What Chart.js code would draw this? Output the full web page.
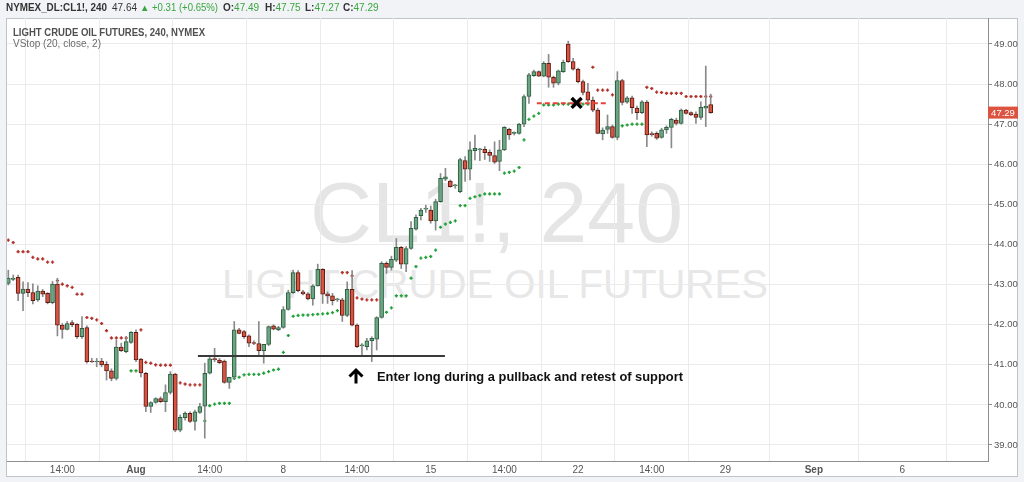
<!DOCTYPE html>
<html><head><meta charset="utf-8">
<script src="https://cdn.jsdelivr.net/npm/chart.js@4.4.1/dist/chart.umd.min.js"></script>
<style>
html,body{margin:0;padding:0;background:#f1f3f6;}
#wrap{position:relative;width:1024px;height:482px;overflow:hidden;}
#panel{position:absolute;left:6px;top:18px;width:1012px;height:459px;background:#fff;border:1px solid #bfc4ca;box-sizing:border-box;}
#bg,#fg,canvas{position:absolute;left:0;top:0;}
</style></head>
<body><div id="wrap">
<div id="panel"></div>
<svg id="bg" width="1024" height="482">
  <text x="310" y="242" font-family="Liberation Sans, Arial, sans-serif" font-size="86" fill="#e5e5e5" textLength="373" lengthAdjust="spacingAndGlyphs">CL1!, 240</text>
  <text x="222" y="298" font-family="Liberation Sans, Arial, sans-serif" font-size="40" fill="#e7e7e7" textLength="546" lengthAdjust="spacingAndGlyphs">LIGHT CRUDE OIL FUTURES</text>
</svg>
<canvas id="c" width="1024" height="482"></canvas>
<svg id="fg" width="1024" height="482" font-family="Liberation Sans, Arial, sans-serif">
  <g font-size="10" fill="#333">
    <text x="6" y="11" font-weight="bold" textLength="101" lengthAdjust="spacingAndGlyphs">NYMEX_DL:CL1!, 240</text>
    <text x="112" y="11">47.64</text>
    <text x="140" y="11" fill="#3aa63f" font-size="9.5">▲</text>
    <text x="152" y="11" fill="#3aa63f" textLength="66" lengthAdjust="spacingAndGlyphs">+0.31 (+0.65%)</text>
    <text x="223" y="11"><tspan font-weight="bold">O:</tspan><tspan fill="#3aa63f">47.49</tspan></text>
    <text x="265" y="11"><tspan font-weight="bold">H:</tspan><tspan fill="#3aa63f">47.75</tspan></text>
    <text x="305" y="11"><tspan font-weight="bold">L:</tspan><tspan fill="#3aa63f">47.27</tspan></text>
    <text x="343" y="11"><tspan font-weight="bold">C:</tspan><tspan fill="#3aa63f">47.29</tspan></text>
  </g>
  <text x="13" y="36" font-size="10" font-weight="bold" fill="#505050" textLength="192" lengthAdjust="spacingAndGlyphs">LIGHT CRUDE OIL FUTURES, 240, NYMEX</text>
  <text x="13" y="47" font-size="10" fill="#6b6b6b" textLength="88" lengthAdjust="spacingAndGlyphs">VStop (20, close, 2)</text>
  <path d="M349.5,376.5 L356,370 L362.5,376.5 M356,371 L356,383.5" stroke="#000" stroke-width="3" fill="none"/>
  <text x="377" y="381" font-size="12.5" font-weight="bold" fill="#111" textLength="306" lengthAdjust="spacingAndGlyphs">Enter long during a pullback and retest of support</text>
  <rect id="plRect" x="988" y="107" width="30" height="12" fill="#dc5440"/>
  <text id="plText" x="1003" y="116.5" text-anchor="middle" font-size="9.5" fill="#fff">47.29</text>
</svg>
</div>
<script>
// ---- data (4H bars, index 0..143) ----
const openP = [43.03,43.13,43.18,42.78,42.89,42.80,42.62,42.84,42.78,42.55,
43.01,41.99,41.88,42.05,42.01,41.70,41.93,41.08,41.07,41.09,
41.01,40.85,40.66,41.44,41.33,41.56,41.81,41.14,40.79,39.96,
40.06,40.16,40.08,40.31,40.77,39.37,39.68,39.79,39.59,39.81,
39.97,40.79,41.14,41.12,41.09,40.56,40.69,41.87,41.83,41.72,
41.54,41.53,41.35,41.51,41.97,41.87,41.93,42.38,42.80,43.30,
42.82,42.77,42.64,42.97,43.38,42.77,42.72,42.62,42.62,42.23,
42.88,41.99,41.47,41.45,41.60,41.64,42.18,43.53,43.43,43.61,
43.93,43.51,43.90,44.38,44.72,44.88,44.86,44.59,45.07,45.63,
45.58,45.46,45.32,46.09,45.88,46.34,46.36,46.37,46.30,46.22,
46.07,46.36,46.87,46.77,46.77,47.00,47.69,48.21,48.31,48.20,
48.52,48.17,48.02,48.31,49.00,48.56,48.37,48.06,47.81,47.60,
47.35,46.76,46.87,46.94,46.67,48.09,47.55,47.66,47.40,47.29,
47.55,46.76,46.77,46.67,46.86,46.92,47.10,47.02,47.35,47.29,
47.25,47.17,47.40,47.49];
const highP = [43.36,43.24,43.24,43.07,43.05,43.02,42.97,42.88,42.80,43.08,
43.16,42.03,42.08,42.10,42.03,42.20,41.97,41.16,41.16,41.16,
41.08,40.90,41.62,41.54,41.70,41.83,41.87,41.16,40.81,40.08,
40.18,40.20,40.50,40.83,40.79,39.75,39.83,39.83,39.87,40.04,
41.04,41.20,41.41,41.16,41.12,40.69,42.08,41.91,41.86,41.75,
41.60,42.08,41.51,41.97,42.00,41.96,42.45,42.86,43.36,43.35,
42.86,42.80,43.00,43.51,43.40,42.82,42.78,42.66,42.66,43.07,
43.35,42.02,41.53,41.66,41.70,42.20,43.57,43.57,43.71,44.15,
43.95,43.95,44.57,44.74,44.90,44.98,44.96,45.13,45.77,45.90,
45.61,45.50,46.15,46.19,46.56,46.73,46.40,46.44,46.36,46.56,
46.60,46.94,46.90,46.81,47.02,47.73,48.27,48.35,48.33,48.56,
48.74,48.20,48.35,48.60,49.07,48.64,48.40,48.10,48.02,47.68,
47.40,46.91,47.23,46.98,48.31,48.12,47.69,47.70,47.45,47.59,
47.59,46.81,46.81,46.90,46.96,47.15,47.15,47.38,47.37,47.31,
47.31,47.56,48.45,47.75];
const lowP = [42.99,43.10,42.60,42.35,42.70,42.52,42.58,42.70,42.52,42.52,
41.72,41.66,41.87,41.95,41.66,41.66,41.04,41.06,40.95,40.95,
40.62,40.60,40.62,41.33,41.30,41.53,41.08,40.70,39.83,39.81,
40.04,40.06,39.83,40.27,39.33,39.33,39.62,39.56,39.37,39.79,
39.17,40.77,41.08,41.03,40.54,40.41,40.66,41.77,41.66,41.45,
41.50,41.22,41.04,41.48,41.87,41.85,41.91,42.36,42.78,42.82,
42.74,42.62,42.49,42.96,42.53,42.53,42.49,42.58,42.08,42.20,
41.97,41.43,41.24,41.37,41.08,41.37,42.16,43.28,43.36,43.57,
43.40,43.32,43.88,44.36,44.61,44.80,44.53,44.36,45.05,45.59,
45.43,45.40,45.29,45.57,45.61,46.11,46.09,46.12,46.07,46.02,
45.84,46.34,46.62,46.73,46.75,46.94,47.52,48.19,48.19,48.18,
47.92,47.92,47.98,48.29,48.54,48.35,48.03,47.73,47.56,47.31,
46.76,46.61,46.77,46.65,46.61,47.48,47.52,47.27,47.12,47.26,
46.44,46.70,46.62,46.65,46.77,46.41,46.98,47.00,47.25,47.21,
47.02,47.12,46.94,47.27];
const closeP = [43.16,43.16,42.78,42.89,42.80,42.60,42.84,42.76,42.55,43.01,
41.99,41.88,42.03,42.00,41.70,41.91,41.08,41.07,41.08,41.00,
40.85,40.66,41.44,41.35,41.58,41.81,41.12,40.80,39.96,40.06,
40.16,40.08,40.31,40.77,39.37,39.69,39.79,39.59,39.83,39.96,
40.79,41.15,41.13,41.05,40.56,40.69,41.87,41.78,41.70,41.54,
41.53,41.35,41.51,41.95,41.89,41.93,42.38,42.80,43.30,42.85,
42.77,42.64,42.97,43.38,42.76,42.72,42.60,42.62,42.23,42.88,
41.99,41.45,41.47,41.60,41.66,42.18,43.53,43.43,43.63,43.93,
43.51,43.90,44.40,44.68,44.86,44.88,44.59,45.07,45.65,45.69,
45.44,45.46,46.12,45.88,46.36,46.40,46.36,46.29,46.22,46.05,
46.36,46.92,46.73,46.77,47.00,47.69,48.23,48.31,48.20,48.52,
48.17,48.02,48.33,48.54,48.56,48.37,48.06,47.79,47.60,47.35,
46.77,46.85,46.94,46.67,48.09,47.54,47.66,47.41,47.29,47.56,
46.73,46.74,46.65,46.86,46.92,47.12,47.02,47.35,47.27,47.23,
47.17,47.42,47.45,47.29];
// VStop (20, close, 2) stop level per bar, and its side (d = above price / red, u = below price / green)
const vstopVal = [44.11,44.05,43.82,43.82,43.82,43.68,43.64,43.64,43.56,43.56,
43.10,43.01,42.97,42.93,42.76,42.76,42.18,42.16,42.12,42.03,
41.85,41.67,41.67,41.67,41.67,40.85,40.85,41.87,41.06,41.04,
41.00,40.99,40.99,40.99,40.55,40.55,40.52,40.50,40.50,40.50,
39.60,39.98,40.02,40.04,40.04,40.04,40.66,40.69,40.75,40.76,
40.76,40.76,40.79,40.83,40.87,40.89,41.31,41.73,42.21,42.23,
42.24,42.24,42.25,42.26,42.27,42.28,42.30,42.35,43.30,43.30,
43.22,42.67,42.64,42.62,42.62,42.62,42.25,42.31,42.42,42.72,
42.72,42.72,43.16,43.45,43.66,43.68,43.70,43.86,44.43,44.51,
44.55,44.59,44.97,44.97,45.15,45.19,45.22,45.26,45.26,45.26,
45.26,45.78,45.80,45.83,45.92,46.61,47.12,47.20,47.27,47.48,
47.48,47.48,47.50,47.50,47.50,47.50,47.50,47.50,47.50,48.42,
47.85,47.85,47.85,47.73,46.93,46.96,46.98,47.00,47.00,47.00,
47.92,47.89,47.80,47.79,47.77,47.77,47.77,47.77,47.69,47.69,
47.69,47.69,47.69,47.69];
const vstopSide = ("dddddddddd"+"dddddddddd"+"ddddduuddd"+"dddddddddd"+
"uuuuuuuuuu"+"uuuuuuuuuu"+"uuuuuuuudd"+"dddddduuuu"+"uuuuuuuuuu"+
"uuuuuuuuuu"+"uuuuuuuuuu"+"uuuuuuuuud"+"dddduuuuuu"+"dddddddddd"+"dddd").split("");
// time axis ticks (bar index positions) and labels
const xTickPos = [11,26,41,56,71,86,101,116,131,146,164,182];
const xTickLabels = ["14:00","Aug","14:00","8","14:00","15","14:00","22","14:00","29","Sep","6"];
const yTickValues = [39,40,41,42,43,44,45,46,47,48,49];
// drawn annotations
const supportLevel = 41.22, supportFrom = 38.6, supportTo = 88.9;
const dashLevel = 47.52, dashFrom = 107.6, dashTo = 121.9;
const markX = 115.7, markY = 47.53;

const idx = openP.map((_, i) => i);
const upFill = '#6ba583', upLine = '#2d5e3f', dnFill = '#d75442', dnLine = '#5b1a13';
const isUp = i => closeP[i] >= openP[i];

const chart = new Chart(document.getElementById('c'), {
  type: 'bar',
  data: {
    datasets: [
      { type: 'line', label: 'vstop-d', order: 5, showLine: false,
        data: idx.map(i => ({x: i, y: vstopSide[i] === 'd' ? vstopVal[i] : null})),
        pointStyle: 'cross', pointRadius: 1.6, pointBorderWidth: 1.4,
        borderColor: '#b3312b', backgroundColor: '#b3312b' },
      { type: 'line', label: 'vstop-u', order: 5, showLine: false,
        data: idx.map(i => ({x: i, y: vstopSide[i] === 'u' ? vstopVal[i] : null})),
        pointStyle: 'cross', pointRadius: 1.6, pointBorderWidth: 1.4,
        borderColor: '#22a03a', backgroundColor: '#22a03a' },
      { label: 'wicks', order: 4, grouped: false, barThickness: 1,
        data: idx.map(i => ({x: i, y: [lowP[i], highP[i]]})),
        backgroundColor: '#8a8a8c', borderWidth: 0 },
      { label: 'bodies', order: 3, grouped: false, barThickness: 4, minBarLength: 1,
        data: idx.map(i => ({x: i, y: [openP[i], closeP[i]]})),
        backgroundColor: idx.map(i => isUp(i) ? upFill : dnFill),
        borderColor: idx.map(i => isUp(i) ? upLine : dnLine),
        borderWidth: 1, borderSkipped: false },
      { type: 'line', label: 'support', order: 1,
        data: [{x: supportFrom, y: supportLevel}, {x: supportTo, y: supportLevel}],
        borderColor: '#3a3a3a', borderWidth: 2, pointRadius: 0 },
      { type: 'line', label: 'dash', order: 1,
        data: [{x: dashFrom, y: dashLevel}, {x: dashTo, y: dashLevel}],
        borderColor: '#e8413a', borderWidth: 2, borderDash: [5, 3], pointRadius: 0 },
      { type: 'line', label: 'mark', order: 0, showLine: false,
        data: [{x: markX, y: markY}],
        pointStyle: 'crossRot', pointRadius: 7, pointBorderWidth: 3.5,
        borderColor: '#000', backgroundColor: '#000' }
    ]
  },
  options: {
    responsive: false, animation: false, devicePixelRatio: 1,
    layout: { autoPadding: false, padding: { left: 7, right: 6, top: 18, bottom: 5 } },
    plugins: { legend: { display: false }, tooltip: { enabled: false } },
    scales: {
      x: {
        type: 'linear', offset: false, min: -0.265, max: 199.46,
        afterBuildTicks: s => { s.ticks = xTickPos.map(v => ({value: v})); },
        afterFit: s => { s.height = 16; },
        ticks: {
          autoSkip: false, maxRotation: 0, padding: 3, color: '#555',
          callback: (v, i) => xTickLabels[i],
          font: ctx => ({ family: 'Liberation Sans, Arial, sans-serif', size: 10,
            weight: (xTickLabels[ctx.index] === 'Aug' || xTickLabels[ctx.index] === 'Sep') ? 'bold' : 'normal' })
        },
        grid: { color: '#ebebeb', drawTicks: false },
        border: { display: true, color: '#8e8e8e' }
      },
      y: {
        type: 'linear', position: 'right', min: 38.601, max: 49.648,
        afterBuildTicks: s => { s.ticks = yTickValues.map(v => ({value: v})); },
        afterFit: s => { s.width = 30; },
        ticks: { padding: 2, color: '#555', callback: v => v.toFixed(2),
          font: { family: 'Liberation Sans, Arial, sans-serif', size: 9.5 } },
        grid: { color: '#ebebeb', tickLength: 4, tickColor: '#8e8e8e' },
        border: { display: true, color: '#8e8e8e' }
      }
    }
  }
});

// last price label positioned through the y scale
const lastClose = closeP[closeP.length - 1];
const py = chart.scales.y.getPixelForValue(lastClose);
document.getElementById('plRect').setAttribute('y', (py - 6).toFixed(1));
document.getElementById('plText').setAttribute('y', (py + 3.3).toFixed(1));
document.getElementById('plText').textContent = lastClose.toFixed(2);
</script>
</body></html>
